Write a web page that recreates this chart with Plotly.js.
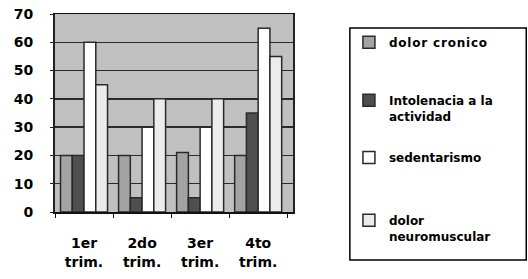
<!DOCTYPE html>
<html>
<head>
<meta charset="utf-8">
<script src="https://cdn.plot.ly/plotly-3.0.1.min.js"></script>
<style>html,body{margin:0;padding:0;background:#fff;}#chart{width:528px;height:279px;}
.legendtext{letter-spacing:0.8px;}</style>
</head>
<body>
<div id="chart"></div>
<script>
var categories = ["1er<br>trim.", "2do<br>trim.", "3er<br>trim.", "4to<br>trim."];
var seriesNames = ["dolor cronico", "Intolenacia a la<br>actividad", "sedentarismo", "dolor<br>neuromuscular"];
var dolorCronico = [20, 20, 21, 20];
var intolerancia = [20, 5, 5, 35];
var sedentarismo = [60, 30, 30, 65];
var dolorNeuro = [45, 40, 40, 55];
var yTicks = [0, 10, 20, 30, 40, 50, 60, 70];

var colors = ["#a3a3a3", "#4f4f4f", "#ffffff", "#ececec"];
var values = [dolorCronico, intolerancia, sedentarismo, dolorNeuro];
var legendIds = ["legend", "legend2", "legend3", "legend4"];
var legendY = [0.929, 0.636, 0.348, 0.030];

var traces = values.map(function(v, i) {
  return {
    type: "bar",
    x: categories,
    y: v,
    name: seriesNames[i],
    legend: legendIds[i],
    marker: {color: colors[i], line: {color: "#2a2a2a", width: 1.5}}
  };
});

var layout = {
  width: 528, height: 279,
  margin: {l: 55, r: 235, t: 14, b: 67},
  paper_bgcolor: "#ffffff",
  plot_bgcolor: "#c0c0c0",
  barmode: "group",
  bargap: 0.19,
  bargroupgap: 0,
  font: {family: "DejaVu Sans", color: "#000"},
  xaxis: {
    range: [-0.5, 3.6],
    showline: true, linecolor: "#111", linewidth: 1.5, mirror: true,
    ticks: "outside", ticklen: 4, tickcolor: "#111", tickson: "boundaries",
    tickfont: {size: 14, weight: "bold", family: "DejaVu Sans"},
    ticklabelstandoff: 18,
    showgrid: false, zeroline: false
  },
  yaxis: {
    range: [0, 70],
    tickvals: yTicks,
    showline: true, linecolor: "#222", linewidth: 2, mirror: true,
    ticks: "outside", ticklen: 3, tickcolor: "#222",
    tickfont: {size: 14, weight: "bold", family: "DejaVu Sans"},
    ticklabelstandoff: 14,
    showgrid: true, gridcolor: "#2b2b2b", gridwidth: 1.5,
    zeroline: false
  },
  showlegend: true,
  shapes: [{
    type: "rect", xref: "paper", yref: "paper",
    x0: 1.239, x1: 1.98, y0: -0.242, y1: 0.929,
    line: {color: "#000", width: 1.5}, fillcolor: "rgba(0,0,0,0)", layer: "below"
  }]
};

legendIds.forEach(function(id, i) {
  layout[id] = {
    x: 1.235, y: legendY[i], xanchor: "left", yanchor: "top",
    bgcolor: "rgba(0,0,0,0)", borderwidth: 0,
    valign: "top",
    itemwidth: 30,
    font: {size: 12, weight: "bold", family: "DejaVu Sans", color: "#000"}
  };
});

Plotly.newPlot("chart", traces, layout, {displayModeBar: false, staticPlot: true});
</script>
</body>
</html>
